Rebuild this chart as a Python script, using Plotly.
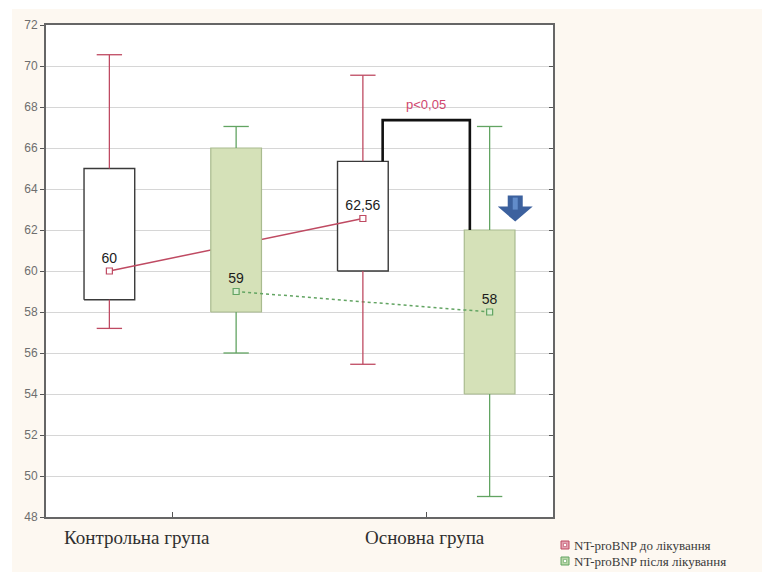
import plotly.graph_objects as go

# ---- data ----
groups = ["Контрольна група", "Основна група"]
series_names = ["NT-proBNP до лікування", "NT-proBNP після лікування"]

# before treatment (per group)
before_center = [60, 62.56]
before_q1 = [58.6, 60.0]
before_q3 = [65.0, 65.35]
before_min = [57.2, 55.45]
before_max = [70.55, 69.55]
before_labels = ["60", "62,56"]

# after treatment (per group)
after_center = [59, 58]
after_q1 = [58.0, 54.0]
after_q3 = [66.0, 62.0]
after_min = [56.0, 49.0]
after_max = [67.05, 67.05]
after_labels = ["59", "58"]

p_label = "p<0,05"

# ---- layout constants ----
W, H = 762, 572
L, R, T, B = 46, 553, 25, 517
group_pos = [0, 1]
offset = {"before": -0.25, "after": 0.25}
box_w = 0.2
cap_w = 0.1
bracket_inset = 0.078
bracket_level = 67.36
p_level = 68.1

RED = "#bf4a62"
GREEN = "#62a462"
BOX_EDGE = "#3a3a3a"
GREEN_FILL = "#d5e1b8"
GREEN_EDGE = "#a9bb8f"


def px(xp):
    return (xp - L) / (R - L)


def py(yp):
    return (B - yp) / (B - T)


def box_polygon(centers, q1, q3):
    xs, ys = [], []
    for c, lo, hi in zip(centers, q1, q3):
        xs += [c - box_w / 2, c + box_w / 2, c + box_w / 2, c - box_w / 2, c - box_w / 2, None]
        ys += [lo, lo, hi, hi, lo, None]
    return xs, ys


def whisker_path(centers, q1, q3, lo, hi):
    xs, ys = [], []
    for c, a, b, mn, mx in zip(centers, q1, q3, lo, hi):
        xs += [c, c, None, c, c, None, c - cap_w / 2, c + cap_w / 2, None, c - cap_w / 2, c + cap_w / 2, None]
        ys += [b, mx, None, a, mn, None, mx, mx, None, mn, mn, None]
    return xs, ys


x_before = [g + offset["before"] for g in group_pos]
x_after = [g + offset["after"] for g in group_pos]

fig = go.Figure()

# white boxes (before)
bx, by = box_polygon(x_before, before_q1, before_q3)
fig.add_trace(go.Scatter(x=bx, y=by, mode="lines", fill="toself", fillcolor="white",
                         line=dict(color=BOX_EDGE, width=1.4), hoverinfo="skip", showlegend=False))

# before-treatment central values
fig.add_trace(go.Scatter(x=x_before, y=before_center, mode="lines+markers+text",
                         line=dict(color=RED, width=1.5),
                         marker=dict(symbol="square", size=6, color="white", line=dict(color=RED, width=1.2)),
                         text=before_labels, textposition="top center",
                         textfont=dict(family="Arial", size=14, color="#1c1c1c"),
                         name=series_names[0], showlegend=False))

# green boxes (after)
gx, gy = box_polygon(x_after, after_q1, after_q3)
fig.add_trace(go.Scatter(x=gx, y=gy, mode="lines", fill="toself", fillcolor=GREEN_FILL,
                         line=dict(color=GREEN_EDGE, width=1.2), hoverinfo="skip", showlegend=False))

# after-treatment central values
fig.add_trace(go.Scatter(x=x_after, y=after_center, mode="lines+markers+text",
                         line=dict(color=GREEN, width=1.5, dash="dot"),
                         marker=dict(symbol="square", size=6, color="#d9ecd0", line=dict(color=GREEN, width=1.2)),
                         text=after_labels, textposition="top center",
                         textfont=dict(family="Arial", size=14, color="#1c1c1c"),
                         name=series_names[1], showlegend=False))

# whiskers
wx, wy = whisker_path(x_before, before_q1, before_q3, before_min, before_max)
fig.add_trace(go.Scatter(x=wx, y=wy, mode="lines", line=dict(color=RED, width=1.3),
                         hoverinfo="skip", showlegend=False))
wx, wy = whisker_path(x_after, after_q1, after_q3, after_min, after_max)
fig.add_trace(go.Scatter(x=wx, y=wy, mode="lines", line=dict(color=GREEN, width=1.3),
                         hoverinfo="skip", showlegend=False))

shapes = []
annotations = []

# significance bracket between the main-group boxes
bx1 = x_before[1] + bracket_inset
bx2 = x_after[1] - bracket_inset
shapes.append(dict(type="path", xref="x", yref="y",
                   path=f"M {bx1},{before_q3[1]} L {bx1},{bracket_level} L {bx2},{bracket_level} L {bx2},{after_q3[1]}",
                   line=dict(color="#111111", width=2.6)))
annotations.append(dict(x=(bx1 + bx2) / 2, y=p_level, xref="x", yref="y", text=p_label,
                        showarrow=False, font=dict(family="Arial", size=13, color="#d0466e")))

# downward block arrow beside the treated box
arrow_x = x_after[1] + 0.101
arrow_y = after_q3[1] + 0.41
shapes.append(dict(type="path", xref="x", yref="y", xsizemode="pixel", ysizemode="pixel",
                   xanchor=arrow_x, yanchor=arrow_y,
                   path="M 0,0 L -17.5,15 L -7.5,15 L -7.5,26 L 7.5,26 L 7.5,15 L 17.5,15 Z",
                   fillcolor="#3c619e", line=dict(width=0)))
shapes.append(dict(type="path", xref="x", yref="y", xsizemode="pixel", ysizemode="pixel",
                   xanchor=arrow_x, yanchor=arrow_y,
                   path="M -2.5,12 L 2.5,12 L 2.5,24 L -2.5,24 Z",
                   fillcolor="#6b97d4", line=dict(width=0), opacity=0.8))

# group labels under the axis
label_shift = [-0.142, -0.004]
for g, s, name in zip(group_pos, label_shift, groups):
    annotations.append(dict(x=g + s, y=py(537), xref="x", yref="paper", text=name, showarrow=False,
                            yanchor="middle", font=dict(family="Liberation Serif", size=19, color="#2f2f2f")))

# white strips at the top and left edges
shapes.append(dict(type="rect", xref="paper", yref="paper", x0=px(0), x1=px(W), y0=py(9), y1=py(0),
                   fillcolor="white", line=dict(width=0), layer="above"))
shapes.append(dict(type="rect", xref="paper", yref="paper", x0=px(0), x1=px(12), y0=py(H), y1=py(0),
                   fillcolor="white", line=dict(width=0), layer="above"))

# legend
legend_rows = [(545, "#e3a2b2", RED), (561, "#b9d7a8", GREEN)]
for (yc, fill, edge), name in zip(legend_rows, series_names):
    shapes.append(dict(type="rect", xref="paper", yref="paper", x0=px(561), x1=px(569),
                       y0=py(yc + 4), y1=py(yc - 4), fillcolor=fill, line=dict(color=edge, width=1)))
    shapes.append(dict(type="rect", xref="paper", yref="paper", x0=px(563.5), x1=px(566.5),
                       y0=py(yc + 1.5), y1=py(yc - 1.5), fillcolor="white", line=dict(color=edge, width=0.6)))
    annotations.append(dict(x=px(572), y=py(yc), xref="paper", yref="paper", text=name, showarrow=False,
                            xanchor="left", yanchor="middle",
                            font=dict(family="Liberation Serif", size=13, color="#3a3a3a")))

fig.update_layout(
    width=W, height=H,
    margin=dict(l=L, r=W - R, t=T, b=H - B),
    paper_bgcolor="#fdf8f1",
    plot_bgcolor="white",
    shapes=shapes,
    annotations=annotations,
    showlegend=False,
    xaxis=dict(range=[-0.5, 1.5], tickvals=group_pos, showticklabels=False, ticks="inside", ticklen=5,
               tickcolor="#555", showgrid=False, zeroline=False, showline=True, linecolor="#666",
               linewidth=2, mirror=True, fixedrange=True),
    yaxis=dict(range=[48, 72], dtick=2, ticks="outside", ticklen=4, tickcolor="#555",
               tickfont=dict(family="Arial", size=12, color="#6e6e6e"),
               gridcolor="#d6d6d6", gridwidth=1, zeroline=False, showline=True, linecolor="#666",
               linewidth=2, mirror=True, fixedrange=True),
    yaxis2=dict(range=[48, 72], dtick=2, overlaying="y", side="right", ticks="inside", ticklen=4,
                tickcolor="#555", showticklabels=False, showgrid=False, zeroline=False, fixedrange=True),
)
# invisible trace to bind the right-hand tick axis
fig.add_trace(go.Scatter(x=[None], y=[None], yaxis="y2", showlegend=False, hoverinfo="skip"))

fig.write_html("out.html")
